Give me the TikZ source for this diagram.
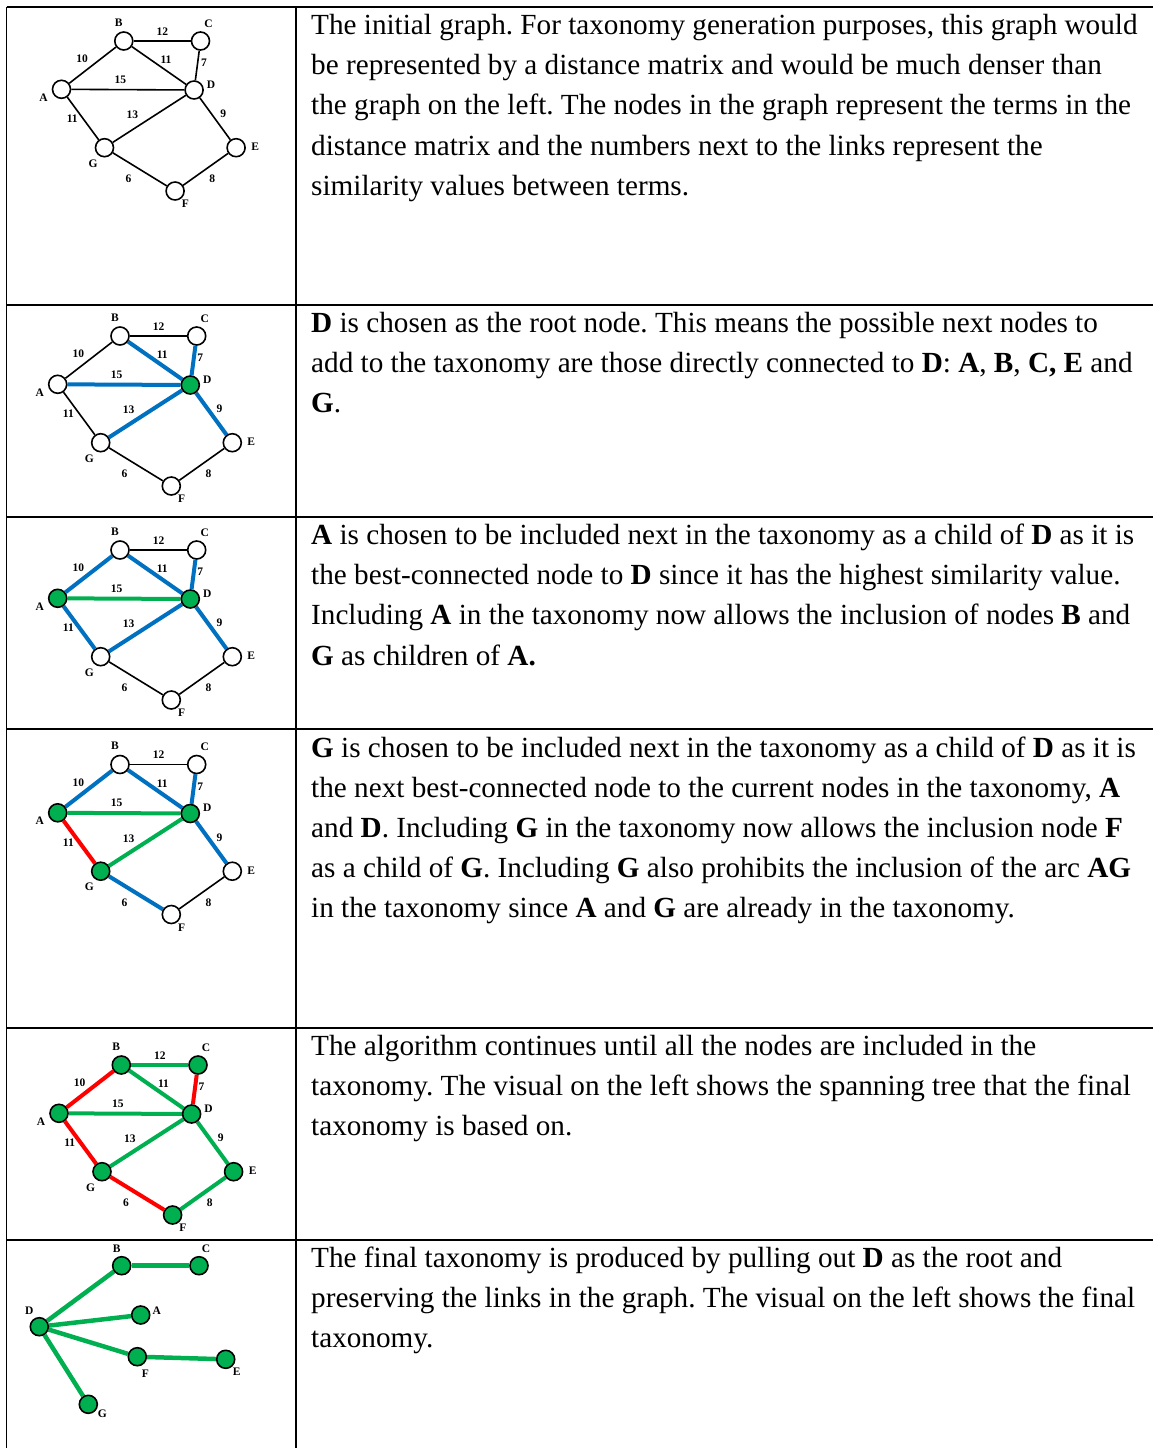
\documentclass[tikz,border=0pt]{standalone}
\usepackage{fontspec}
\setmainfont{Liberation Serif}
\usetikzlibrary{calc,backgrounds}
\frenchspacing
\definecolor{eblue}{HTML}{0070C0}
\definecolor{egreen}{HTML}{00B050}
\definecolor{ered}{HTML}{FF0000}
\tikzset{
 vtx/.style={circle, draw=black, line width=1.6pt, minimum size=18pt, inner sep=0pt, fill=white},
 gvtx/.style={vtx, fill=egreen},
 lbl/.style={font=\bfseries\fontsize{11.5}{13}\selectfont, inner sep=0pt},
 plain/.style={draw=black, line width=1.6pt},
 bl/.style={draw=eblue, line width=4pt},
 gr/.style={draw=egreen, line width=4pt},
 rd/.style={draw=ered, line width=4pt},
 rulel/.style={line width=1.8pt},
 txt/.style={anchor=base west, inner sep=0pt, font=\fontsize{29.2}{34}\selectfont},
 nA/.style=vtx, nB/.style=vtx, nC/.style=vtx, nD/.style=vtx, nE/.style=vtx, nF/.style=vtx, nG/.style=vtx,
 eAB/.style=plain, eBC/.style=plain, eBD/.style=plain, eCD/.style=plain, eAD/.style=plain,
 eAG/.style=plain, eGD/.style=plain, eDE/.style=plain, eGF/.style=plain, eFE/.style=plain,
}
\newcommand\basegraph[1]{%
 \node[nA] (A#1) at (57.7,384.3) {};
 \node[nB] (B#1) at (120,336) {};
 \node[nC] (C#1) at (196.7,336) {};
 \node[nD] (D#1) at (190.3,385) {};
 \node[nE] (E#1) at (232.3,442.7) {};
 \node[nF] (F#1) at (171.3,486) {};
 \node[nG] (G#1) at (100.7,442.7) {};
 \begin{scope}[on background layer]
 \draw[eAB] (A#1) -- (B#1);
 \draw[eBC] (B#1) -- (C#1);
 \draw[eBD] (B#1) -- (D#1);
 \draw[eCD] (C#1) -- (D#1);
 \draw[eAD] (A#1) -- (D#1);
 \draw[eAG] (A#1) -- (G#1);
 \draw[eGD] (G#1) -- (D#1);
 \draw[eDE] (D#1) -- (E#1);
 \draw[eGF] (G#1) -- (F#1);
 \draw[eFE] (F#1) -- (E#1);
 \end{scope}
 \node[lbl] (lA#1) at ($(A#1)+(-18,8.3)$) {A};
 \node[lbl] (lB#1) at ($(B#1)+(-5,-18.7)$) {B};
 \node[lbl] (lC#1) at ($(C#1)+(8,-17.7)$) {C};
 \node[lbl] (lD#1) at ($(D#1)+(17,-5.3)$) {D};
 \node[lbl] (lE#1) at ($(E#1)+(19,-0.7)$) {E};
 \node[lbl] (lF#1) at ($(F#1)+(10.3,13)$) {F};
 \node[lbl] (lG#1) at ($(G#1)+(-11.3,16)$) {G};
 \node[lbl] (wBC#1) at (158.6,326.5) {12};
 \node[lbl] (wAB#1) at (78.4,354) {10};
 \node[lbl] (wBD#1) at (162.2,355) {11};
 \node[lbl] (wCD#1) at (200.2,358) {7};
 \node[lbl] (wAD#1) at (116.6,374.5) {15};
 \node[lbl] (wAG#1) at (68.4,414) {11};
 \node[lbl] (wGD#1) at (128.6,410) {13};
 \node[lbl] (wDE#1) at (219.4,409) {9};
 \node[lbl] (wGF#1) at (124.6,474) {6};
 \node[lbl] (wFE#1) at (208.4,474) {8};
}
\begin{document}
\begin{tikzpicture}[x=1pt,y=-1pt]
\useasboundingbox (0,0) rectangle (1153,1448);
% table rules
\draw[rulel] (6.5,7) -- (1153,7);
\foreach \yy/\nm in {305/h2,517/h3,729/h4,1028/h5,1240/h6} {
 \draw[rulel] (6.5,\yy) -- (1153,\yy);
}
\draw[rulel] (6.5,7) -- (6.5,1448);
\draw[rulel] (296,7) -- (296,1448);

% graph 1
\begin{scope}[shift={(3.8,-295)}]
\basegraph{a}
\end{scope}
% graph 2
\begin{scope}[nD/.style=gvtx, eBD/.style=bl, eCD/.style=bl, eAD/.style=bl, eGD/.style=bl, eDE/.style=bl]
\basegraph{b}
\end{scope}
% graph 3
\begin{scope}[shift={(0,214)}, nA/.style=gvtx, nD/.style=gvtx, eAD/.style=gr,
  eAB/.style=bl, eBD/.style=bl, eCD/.style=bl, eAG/.style=bl, eGD/.style=bl, eDE/.style=bl]
\basegraph{c}
\end{scope}
% graph 4
\begin{scope}[shift={(0,428.5)}, nA/.style=gvtx, nD/.style=gvtx, nG/.style=gvtx, eAD/.style=gr, eGD/.style=gr,
  eAG/.style=rd, eAB/.style=bl, eBD/.style=bl, eCD/.style=bl, eDE/.style=bl, eGF/.style=bl]
\basegraph{d}
\end{scope}
% graph 5
\begin{scope}[shift={(1.3,729)}, nA/.style=gvtx, nB/.style=gvtx, nC/.style=gvtx, nD/.style=gvtx,
  nE/.style=gvtx, nF/.style=gvtx, nG/.style=gvtx,
  eAB/.style=rd, eCD/.style=rd, eAG/.style=rd, eGF/.style=rd,
  eBC/.style=gr, eBD/.style=gr, eAD/.style=gr, eGD/.style=gr, eDE/.style=gr, eFE/.style=gr]
\basegraph{e}
\end{scope}
% graph 6: final taxonomy
\node[gvtx] (Df) at (39.3,1326.7) {};
\node[gvtx] (Bf) at (121.7,1265.7) {};
\node[gvtx] (Cf) at (199,1265.7) {};
\node[gvtx] (Af) at (140.7,1315) {};
\node[gvtx] (Ff) at (137.3,1356.7) {};
\node[gvtx] (Ef) at (225.7,1359.3) {};
\node[gvtx] (Gf) at (88.3,1404.3) {};
\begin{scope}[on background layer, every path/.style={draw=egreen, line width=4.5pt}]
\draw (Df) -- (Bf);
\draw (Bf) -- (Cf);
\draw (Df) -- (Af);
\draw (Df) -- (Ff);
\draw (Ff) -- (Ef);
\draw (Df) -- (Gf);
\end{scope}
\node[lbl] (lBf) at (116.7,1248.3) {B};
\node[lbl] (lCf) at (206,1248.3) {C};
\node[lbl] (lDf) at (29.3,1311) {D};
\node[lbl] (lAf) at (156.7,1311) {A};
\node[lbl] (lFf) at (145.3,1373.3) {F};
\node[lbl] (lEf) at (236.7,1371.7) {E};
\node[lbl] (lGf) at (102.3,1414) {G};

% texts
\node[txt] (t11) at (311,34) {The initial graph. For taxonomy generation purposes, this graph would};
\node[txt] (t12) at (311,74) {be represented by a distance matrix and would be much denser than};
\node[txt] (t13) at (311,114) {the graph on the left. The nodes in the graph represent the terms in the};
\node[txt] (t14) at (311,155) {distance matrix and the numbers next to the links represent the};
\node[txt] (t15) at (311,195) {similarity values between terms.};

\node[txt] (t21) at (311,332) {\textbf{D} is chosen as the root node. This means the possible next nodes to};
\node[txt] (t22) at (311,372) {add to the taxonomy are those directly connected to \textbf{D}: \textbf{A}, \textbf{B}, \textbf{C, E} and};
\node[txt] (t23) at (311,412) {\textbf{G}.};

\node[txt] (t31) at (311,544) {\textbf{A} is chosen to be included next in the taxonomy as a child of \textbf{D} as it is};
\node[txt] (t32) at (311,584) {the best-connected node to \textbf{D} since it has the highest similarity value.};
\node[txt] (t33) at (311,624) {Including \textbf{A} in the taxonomy now allows the inclusion of nodes \textbf{B} and};
\node[txt] (t34) at (311,665) {\textbf{G} as children of \textbf{A.}};

\node[txt] (t41) at (311,757) {\textbf{G} is chosen to be included next in the taxonomy as a child of \textbf{D} as it is};
\node[txt] (t42) at (311,797) {the next best-connected node to the current nodes in the taxonomy, \textbf{A}};
\node[txt] (t43) at (311,837) {and \textbf{D}. Including \textbf{G} in the taxonomy now allows the inclusion node \textbf{F}};
\node[txt] (t44) at (311,877) {as a child of \textbf{G}. Including \textbf{G} also prohibits the inclusion of the arc \textbf{AG}};
\node[txt] (t45) at (311,917) {in the taxonomy since \textbf{A} and \textbf{G} are already in the taxonomy.};

\node[txt] (t51) at (311,1055) {The algorithm continues until all the nodes are included in the};
\node[txt] (t52) at (311,1095) {taxonomy. The visual on the left shows the spanning tree that the final};
\node[txt] (t53) at (311,1135) {taxonomy is based on.};

\node[txt] (t61) at (311,1267) {The final taxonomy is produced by pulling out \textbf{D} as the root and};
\node[txt] (t62) at (311,1307) {preserving the links in the graph. The visual on the left shows the final};
\node[txt] (t63) at (311,1347) {taxonomy.};
\end{tikzpicture}
\end{document}
